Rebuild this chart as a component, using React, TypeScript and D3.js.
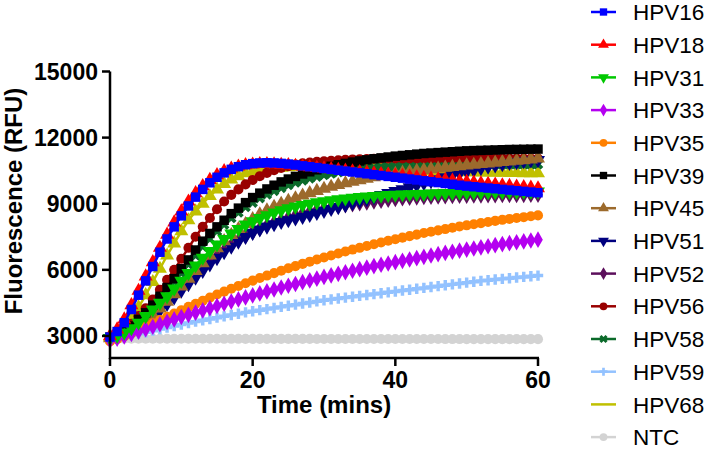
import * as d3 from 'd3';

// minutes sampled (one reading per minute)
const minutes = d3.range(0, 61);

const hpv16 = [2950, 3200, 3600, 4200, 4850, 5500, 6150, 6800, 7400, 7950, 8450,
  8900, 9300, 9650, 9950, 10200, 10400, 10560, 10680, 10770, 10820,
  10850, 10860, 10850, 10830, 10800, 10760, 10720, 10680, 10640, 10600,
  10560, 10520, 10480, 10440, 10400, 10360, 10320, 10280, 10240, 10200,
  10160, 10120, 10080, 10040, 10000, 9960, 9920, 9880, 9840, 9800,
  9770, 9740, 9710, 9680, 9650, 9620, 9590, 9560, 9530, 9500];
const hpv18 = [3000, 3300, 3750, 4400, 5050, 5700, 6350, 7000, 7600, 8150, 8650,
  9100, 9480, 9800, 10080, 10300, 10480, 10600, 10690, 10750, 10780,
  10800, 10800, 10790, 10770, 10750, 10720, 10690, 10660, 10630, 10600,
  10570, 10540, 10500, 10470, 10440, 10410, 10380, 10350, 10320, 10290,
  10260, 10230, 10200, 10170, 10140, 10110, 10080, 10050, 10020, 9990,
  9960, 9930, 9900, 9870, 9840, 9810, 9780, 9760, 9730, 9700];
const hpv31 = [2900, 3000, 3150, 3350, 3600, 3900, 4200, 4500, 4800, 5150, 5500,
  5850, 6200, 6550, 6850, 7150, 7400, 7650, 7850, 8050, 8200,
  8350, 8480, 8600, 8700, 8790, 8870, 8940, 9000, 9060, 9110,
  9160, 9200, 9240, 9270, 9300, 9330, 9350, 9370, 9390, 9410,
  9420, 9430, 9440, 9450, 9460, 9470, 9480, 9490, 9500, 9505,
  9510, 9515, 9520, 9525, 9530, 9535, 9540, 9545, 9550, 9550];
const hpv33 = [2800, 2880, 2980, 3090, 3200, 3310, 3420, 3530, 3640, 3750, 3860,
  3960, 4060, 4160, 4260, 4360, 4460, 4560, 4660, 4750, 4840,
  4930, 5020, 5110, 5200, 5280, 5360, 5440, 5520, 5600, 5680,
  5750, 5820, 5890, 5960, 6030, 6100, 6170, 6230, 6290, 6350,
  6410, 6470, 6530, 6590, 6650, 6710, 6770, 6820, 6870, 6920,
  6970, 7020, 7070, 7120, 7170, 7210, 7250, 7290, 7330, 7370];
const hpv35 = [2750, 2850, 2980, 3120, 3270, 3420, 3570, 3720, 3870, 4020, 4170,
  4320, 4460, 4600, 4740, 4880, 5010, 5140, 5270, 5390, 5510,
  5630, 5740, 5850, 5960, 6070, 6170, 6270, 6370, 6470, 6560,
  6650, 6740, 6830, 6920, 7000, 7080, 7160, 7240, 7320, 7390,
  7460, 7530, 7600, 7670, 7730, 7790, 7850, 7910, 7970, 8020,
  8070, 8120, 8170, 8220, 8270, 8310, 8350, 8390, 8430, 8470];
const hpv39 = [2950, 3050, 3200, 3450, 3750, 4050, 4400, 4800, 5200, 5600, 6050,
  6450, 6900, 7300, 7650, 7950, 8250, 8550, 8800, 9050, 9280,
  9480, 9670, 9840, 9990, 10120, 10240, 10350, 10450, 10540, 10620,
  10700, 10770, 10830, 10890, 10940, 10990, 11040, 11080, 11120, 11160,
  11190, 11220, 11250, 11280, 11300, 11320, 11340, 11360, 11380, 11400,
  11410, 11420, 11430, 11440, 11450, 11460, 11465, 11470, 11475, 11480];
const hpv45 = [2900, 2970, 3080, 3250, 3450, 3700, 3950, 4250, 4550, 4900, 5250,
  5600, 5950, 6300, 6650, 6980, 7300, 7580, 7850, 8080, 8300,
  8520, 8700, 8860, 9000, 9130, 9250, 9370, 9480, 9580, 9680,
  9770, 9850, 9930, 10000, 10070, 10140, 10200, 10260, 10310, 10360,
  10410, 10450, 10490, 10530, 10570, 10600, 10640, 10670, 10700, 10740,
  10770, 10800, 10830, 10860, 10890, 10920, 10950, 10980, 11010, 11050];
const hpv51 = [2900, 2970, 3080, 3230, 3420, 3650, 3900, 4170, 4450, 4750, 5050,
  5350, 5650, 5950, 6250, 6530, 6800, 7050, 7280, 7490, 7680,
  7830, 7960, 8070, 8170, 8250, 8330, 8400, 8490, 8580, 8670,
  8760, 8850, 8940, 9030, 9120, 9210, 9300, 9390, 9480, 9570,
  9660, 9750, 9840, 9930, 10020, 10110, 10200, 10290, 10380, 10460,
  10540, 10610, 10680, 10740, 10800, 10850, 10890, 10930, 10960, 10980];
const hpv52 = [2900, 2980, 3100, 3270, 3480, 3720, 3990, 4270, 4560, 4860, 5160,
  5460, 5760, 6050, 6340, 6610, 6870, 7110, 7330, 7530, 7710,
  7870, 8010, 8140, 8260, 8370, 8470, 8560, 8640, 8710, 8780,
  8840, 8890, 8940, 8980, 9020, 9060, 9100, 9140, 9180, 9220,
  9250, 9270, 9290, 9310, 9320, 9330, 9340, 9350, 9360, 9370,
  9375, 9380, 9385, 9390, 9395, 9400, 9400, 9405, 9410, 9410];
const hpv56 = [2950, 3050, 3250, 3550, 3900, 4250, 4650, 5100, 5550, 6000, 6500,
  7000, 7500, 7950, 8350, 8750, 9100, 9400, 9650, 9880, 10080,
  10250, 10400, 10520, 10620, 10700, 10780, 10830, 10870, 10900, 10930,
  10950, 10970, 10990, 11010, 11020, 11030, 11040, 11050, 11050, 11060,
  11060, 11060, 11060, 11060, 11060, 11060, 11060, 11060, 11060, 11060,
  11060, 11060, 11060, 11055, 11055, 11050, 11050, 11050, 11050, 11050];
const hpv58 = [2900, 3000, 3150, 3400, 3650, 3950, 4300, 4650, 5050, 5450, 5850,
  6250, 6650, 7050, 7400, 7750, 8050, 8350, 8600, 8850, 9050,
  9250, 9420, 9580, 9720, 9850, 9960, 10060, 10150, 10230, 10300,
  10370, 10430, 10480, 10530, 10570, 10610, 10640, 10670, 10690, 10710,
  10730, 10740, 10750, 10760, 10770, 10775, 10780, 10785, 10790, 10790,
  10790, 10790, 10790, 10790, 10790, 10790, 10790, 10790, 10790, 10790];
const hpv59 = [2850, 2900, 2960, 3030, 3100, 3170, 3240, 3310, 3380, 3450, 3520,
  3590, 3650, 3710, 3770, 3830, 3890, 3950, 4010, 4070, 4120,
  4170, 4220, 4270, 4320, 4370, 4420, 4470, 4520, 4570, 4620,
  4660, 4700, 4740, 4780, 4820, 4860, 4900, 4940, 4980, 5020,
  5060, 5100, 5140, 5180, 5220, 5260, 5300, 5340, 5380, 5420,
  5460, 5500, 5530, 5560, 5590, 5620, 5650, 5680, 5710, 5740];
const hpv68 = [2950, 3100, 3400, 3800, 4300, 4850, 5450, 6050, 6650, 7200, 7750,
  8250, 8650, 9000, 9350, 9650, 9900, 10100, 10250, 10380, 10470,
  10530, 10580, 10610, 10640, 10660, 10680, 10690, 10700, 10700, 10690,
  10680, 10670, 10660, 10640, 10620, 10600, 10590, 10570, 10560, 10550,
  10540, 10530, 10510, 10500, 10480, 10470, 10460, 10450, 10440, 10430,
  10425, 10420, 10415, 10410, 10405, 10400, 10395, 10390, 10385, 10380];
const ntc = [2880, 2880, 2878, 2878, 2876, 2876, 2875, 2875, 2874, 2874, 2873,
  2873, 2872, 2872, 2871, 2871, 2870, 2870, 2870, 2869, 2869,
  2868, 2868, 2868, 2867, 2867, 2866, 2866, 2866, 2865, 2865,
  2865, 2864, 2864, 2864, 2863, 2863, 2863, 2862, 2862, 2862,
  2861, 2861, 2861, 2860, 2860, 2860, 2859, 2859, 2859, 2858,
  2858, 2858, 2857, 2857, 2857, 2856, 2856, 2856, 2855, 2855];

const yTicks = [3000, 6000, 9000, 12000, 15000];
const xTicks = [0, 20, 40, 60];

const FONT = '"Liberation Sans", Arial, Helvetica, sans-serif';

const series = [
  { name: 'HPV16', values: hpv16, color: '#0000ff', type: d3.symbolSquare, size: 90, rot: 0 },
  { name: 'HPV18', values: hpv18, color: '#ff0000', type: d3.symbolTriangle, size: 85, rot: 0 },
  { name: 'HPV31', values: hpv31, color: '#00c800', type: d3.symbolTriangle, size: 85, rot: 180 },
  { name: 'HPV33', values: hpv33, color: '#b400f0', type: d3.symbolDiamond, size: 80, rot: 0 },
  { name: 'HPV35', values: hpv35, color: '#ff8000', type: d3.symbolCircle, size: 80, rot: 0 },
  { name: 'HPV39', values: hpv39, color: '#000000', type: d3.symbolSquare, size: 90, rot: 0 },
  { name: 'HPV45', values: hpv45, color: '#9c6a2c', type: d3.symbolTriangle, size: 85, rot: 0 },
  { name: 'HPV51', values: hpv51, color: '#00007f', type: d3.symbolTriangle, size: 85, rot: 180 },
  { name: 'HPV52', values: hpv52, color: '#5c0f5c', type: d3.symbolDiamond, size: 80, rot: 0 },
  { name: 'HPV56', values: hpv56, color: '#990000', type: d3.symbolCircle, size: 80, rot: 0 },
  { name: 'HPV58', values: hpv58, color: '#0b6a2a', type: d3.symbolCross, size: 70, rot: 45 },
  { name: 'HPV59', values: hpv59, color: '#93c2ff', type: d3.symbolCross, size: 60, rot: 0 },
  { name: 'HPV68', values: hpv68, color: '#c0c000', type: d3.symbolTriangle, size: 85, rot: 0, noLegendMark: true },
  { name: 'NTC', values: ntc, color: '#d3d3d3', type: d3.symbolCircle, size: 80, rot: 0 },
];

export default function App() {
  const x = d3.scaleLinear().domain([0, 60]).range([110, 538]);
  const y = d3.scaleLinear().domain([2000, 15000]).range([358, 71.5]);

  const line = d3.line<number>().x((_, i) => x(minutes[i])).y(d => y(d));

  // draw last series first so HPV16 sits on top
  const drawOrder = [...series].reverse();

  return (
    <svg width={708} height={449} style={{ position: 'absolute', left: 0, top: 0, background: '#fff' }}
      fontFamily={FONT}>
      {drawOrder.map(s => {
        const p = d3.symbol().type(s.type).size(s.size)() || '';
        return (
          <g key={s.name}>
            <path d={line(s.values) || ''} fill="none" stroke={s.color} strokeWidth={2.5} />
            {s.values.map((v, i) => (
              <path key={i} d={p} fill={s.color}
                transform={`translate(${x(minutes[i])},${y(v)}) rotate(${s.rot})`} />
            ))}
          </g>
        );
      })}

      {/* y axis */}
      <line x1={110} x2={110} y1={y(15000)} y2={359} stroke="#000" strokeWidth={2.5} />
      {yTicks.map(t => (
        <g key={t}>
          <line x1={102} x2={110} y1={y(t)} y2={y(t)} stroke="#000" strokeWidth={2.5} />
          <text x={98} y={y(t)} dy="0.36em" textAnchor="end" fontSize={23} fontWeight="bold">{t}</text>
        </g>
      ))}
      <text transform="translate(22,201) rotate(-90)" textAnchor="middle" fontSize={24} fontWeight="bold">
        Fluorescence (RFU)
      </text>

      {/* x axis */}
      <line x1={109} x2={x(60) + 1} y1={358} y2={358} stroke="#000" strokeWidth={2.5} />
      {xTicks.map(t => (
        <g key={t}>
          <line x1={x(t)} x2={x(t)} y1={358} y2={366} stroke="#000" strokeWidth={2.5} />
          <text x={x(t)} y={388} textAnchor="middle" fontSize={23} fontWeight="bold">{t}</text>
        </g>
      ))}
      <text x={324} y={413} textAnchor="middle" fontSize={24} fontWeight="bold">Time (mins)</text>

      {/* legend */}
      {series.map((s, i) => {
        const cy = 12 + i * 32.7;
        const p = d3.symbol().type(s.type).size(s.size * 0.6)() || '';
        return (
          <g key={s.name}>
            <line x1={591} x2={616} y1={cy} y2={cy} stroke={s.color} strokeWidth={2.5} />
            {!s.noLegendMark && (
              <path d={p} fill={s.color} transform={`translate(603.5,${cy}) rotate(${s.rot})`} />
            )}
            <text x={633} y={cy} dy="0.36em" fontSize={22.5}>{s.name}</text>
          </g>
        );
      })}
    </svg>
  );
}
